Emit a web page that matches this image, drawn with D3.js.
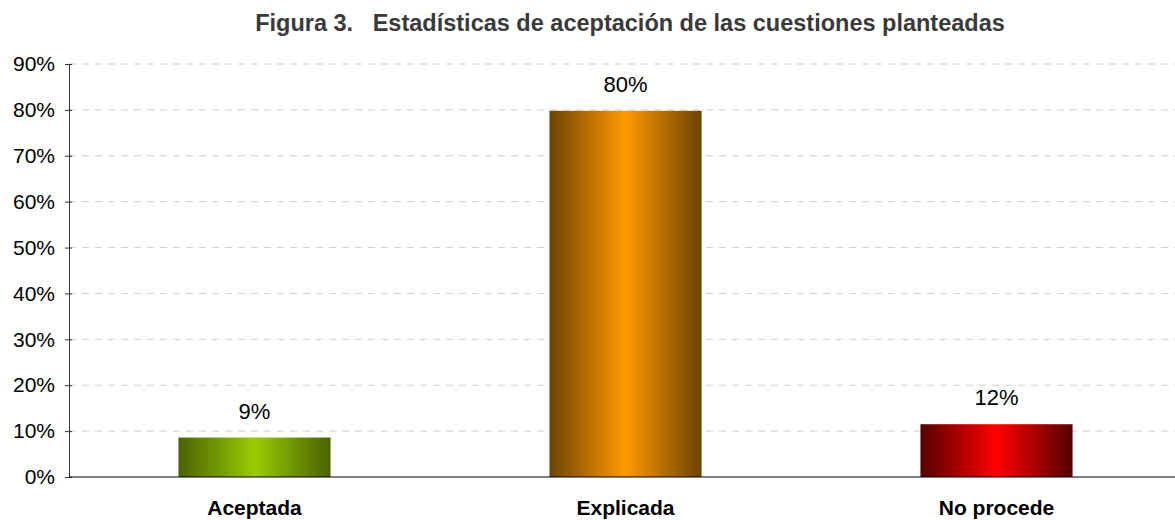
<!DOCTYPE html>
<html><head><meta charset="utf-8">
<script src="https://cdn.jsdelivr.net/npm/d3@7"></script>
<style>body{margin:0;background:#fff;}svg{display:block;font-family:Arial,"Liberation Sans",sans-serif;}</style>
</head><body>
<svg id="c" width="1175" height="520"></svg>
<script>
const title = "Figura 3.   Estadísticas de aceptación de las cuestiones planteadas";
const categories = ["Aceptada", "Explicada", "No procede"];
const values = [0.086, 0.798, 0.115];
const valueLabels = ["9%", "80%", "12%"];
const yTicks = [0, 0.1, 0.2, 0.3, 0.4, 0.5, 0.6, 0.7, 0.8, 0.9];
const edgeColors = ["#4a6200", "#6b4300", "#550000"];
const centerColors = ["#99cc00", "#ff9900", "#ff0000"];

const svg = d3.select("#c");
const mLeft = 69, mRight = 1182, mTop = 64, mBottom = 477;
const x = d3.scaleBand().domain(categories).range([mLeft, mRight]).paddingInner(0.59).paddingOuter(0.295);
const y = d3.scaleLinear().domain([0, 0.9]).range([mBottom, mTop]);

const defs = svg.append("defs");
categories.forEach((c, i) => {
  const g = defs.append("linearGradient").attr("id", "g" + i).attr("x1", "0").attr("x2", "1").attr("y1", "0").attr("y2", "0");
  g.append("stop").attr("offset", "0").attr("stop-color", edgeColors[i]);
  g.append("stop").attr("offset", "0.5").attr("stop-color", centerColors[i]);
  g.append("stop").attr("offset", "1").attr("stop-color", edgeColors[i]);
});

// title
svg.append("text").attr("x", 630).attr("y", 31).attr("text-anchor", "middle")
  .attr("font-size", 23.5).attr("font-weight", "bold").attr("fill", "#3a3a3a").attr("xml:space","preserve").text(title);

// gridlines
svg.append("g").selectAll("line").data(yTicks.filter(d => d > 0)).join("line")
  .attr("x1", mLeft).attr("x2", 1175).attr("y1", d => y(d)).attr("y2", d => y(d))
  .attr("stroke", "#d0d0d0").attr("stroke-dasharray", "7,6");

// bars
svg.append("g").selectAll("rect").data(categories).join("rect")
  .attr("x", d => x(d)).attr("width", x.bandwidth())
  .attr("y", (d, i) => y(values[i])).attr("height", (d, i) => y(0) - y(values[i]))
  .attr("fill", (d, i) => `url(#g${i})`);

// value labels
svg.append("g").selectAll("text").data(categories).join("text")
  .attr("x", d => x(d) + x.bandwidth() / 2).attr("y", (d, i) => y(values[i]) - 19)
  .attr("text-anchor", "middle").attr("font-size", 22).attr("fill", "#000")
  .text((d, i) => valueLabels[i]);

// y axis
const yAxis = d3.axisLeft(y).tickValues(yTicks).tickFormat(d3.format(".0%")).tickSize(4).tickSizeOuter(0);
const ga = svg.append("g").attr("transform", `translate(${mLeft},0)`).call(yAxis);
ga.select(".domain").attr("stroke", "#333");
ga.selectAll(".tick line").attr("stroke", "#333").attr("x2", -4).attr("x1", 3);
ga.selectAll(".tick text").attr("font-size", 21).attr("fill", "#000").attr("font-family", "Arial, 'Liberation Sans', sans-serif").attr("x", -14);

// x axis
const xAxis = d3.axisBottom(x).tickSize(0).tickSizeOuter(0);
const gx = svg.append("g").attr("transform", `translate(0,${mBottom})`).call(xAxis);
gx.select(".domain").attr("stroke", "#000").attr("d", `M${mLeft},0H1175`);
gx.selectAll(".tick text").attr("font-size", 21).attr("font-weight", "bold").attr("fill", "#000")
  .attr("font-family", "Arial, 'Liberation Sans', sans-serif").attr("dy", 0).attr("y", 38);
</script>
</body></html>
